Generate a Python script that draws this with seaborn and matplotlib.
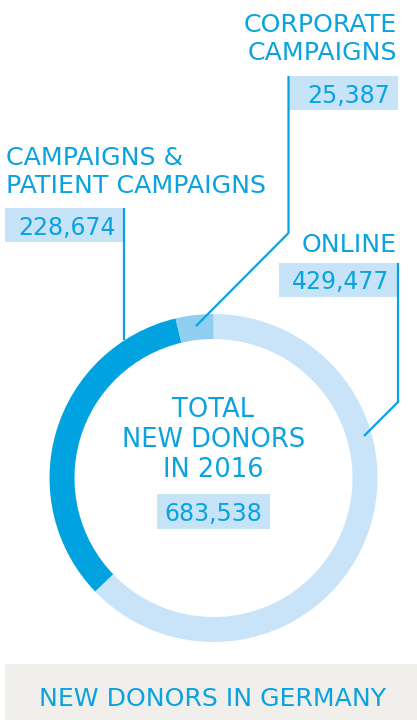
import matplotlib
matplotlib.use('Agg')
import matplotlib.pyplot as plt
import seaborn as sns
from matplotlib.patches import Rectangle

## data
categories = ['ONLINE', 'CAMPAIGNS &\nPATIENT CAMPAIGNS', 'CORPORATE\nCAMPAIGNS']
values = [429477, 228674, 25387]
total_label = 'TOTAL\nNEW DONORS\nIN 2016'
footer = 'NEW DONORS IN GERMANY'

sns.set_theme(style='white')
plt.rcParams['font.family'] = ['DejaVu Sans']

blue = '#0aa3df'
box_col = '#c6e3f7'
colors = ['#c9e4f8', '#00a3e0', '#8fcdf1']

W, H = 417, 720
fig = plt.figure(figsize=(W / 100, H / 100), dpi=100)
ax = fig.add_axes([0, 0, 1, 1])

def Y(y):
    ## convert top-down pixel coordinates into the axes coordinates
    return H - y

cx, cy, r_out, ring = 213.5, 478, 164, 25
ax.pie(values, colors=colors, startangle=90, counterclock=False,
       center=(cx, Y(cy)), radius=r_out,
       wedgeprops=dict(width=ring, linewidth=0))

ax.set_xlim(0, W)
ax.set_ylim(0, H)
ax.set_aspect('equal')
ax.axis('off')

fs_lab = 18.2
fs_val = 17

def value_box(x0, x1, y0, y1, txt, ha='right'):
    ax.add_patch(Rectangle((x0, Y(y1)), x1 - x0, y1 - y0,
                           facecolor=box_col, edgecolor='none', zorder=2))
    if ha == 'right':
        tx = x1 - 8
    elif ha == 'center':
        tx = (x0 + x1) / 2
    ax.text(tx, Y((y0 + y1) / 2), txt, ha=ha, va='center_baseline',
            color=blue, fontsize=fs_val, zorder=3)

def line(xs, ys):
    ax.plot(xs, [Y(v) for v in ys], color=blue, lw=1.6, zorder=3,
            solid_capstyle='butt')

## corporate campaigns
ax.text(397, Y(39), categories[2], ha='right', va='center', color=blue,
        fontsize=fs_lab, linespacing=1.17)
value_box(289, 398, 76, 110, f'{values[2]:,}')
line([288.5, 288.5, 196], [76, 233, 326])

## campaigns & patient campaigns
ax.text(6, Y(172), categories[1], ha='left', va='center', color=blue,
        fontsize=fs_lab, linespacing=1.17)
value_box(5, 124, 208, 242, f'{values[1]:,}')
line([124.5, 124.5], [208, 340])

## online
ax.text(397, Y(243), categories[0], ha='right', va='center_baseline',
        color=blue, fontsize=fs_lab)
value_box(279, 397, 263, 297, f'{values[0]:,}')
line([398, 398, 364], [263, 402, 436])

## centre text
ax.text(cx, Y(440), total_label, ha='center', va='center', color=blue,
        fontsize=18.5, linespacing=1.2)
value_box(157, 270, 494, 529, f'{sum(values):,}', ha='center')

## footer band
ax.add_patch(Rectangle((5, 0), W - 5, Y(664), facecolor='#f0efec',
                       edgecolor='none'))
ax.text(213, Y(697), footer, ha='center', va='center_baseline', color=blue,
        fontsize=18.1)

fig.savefig('out.png', dpi=100)
